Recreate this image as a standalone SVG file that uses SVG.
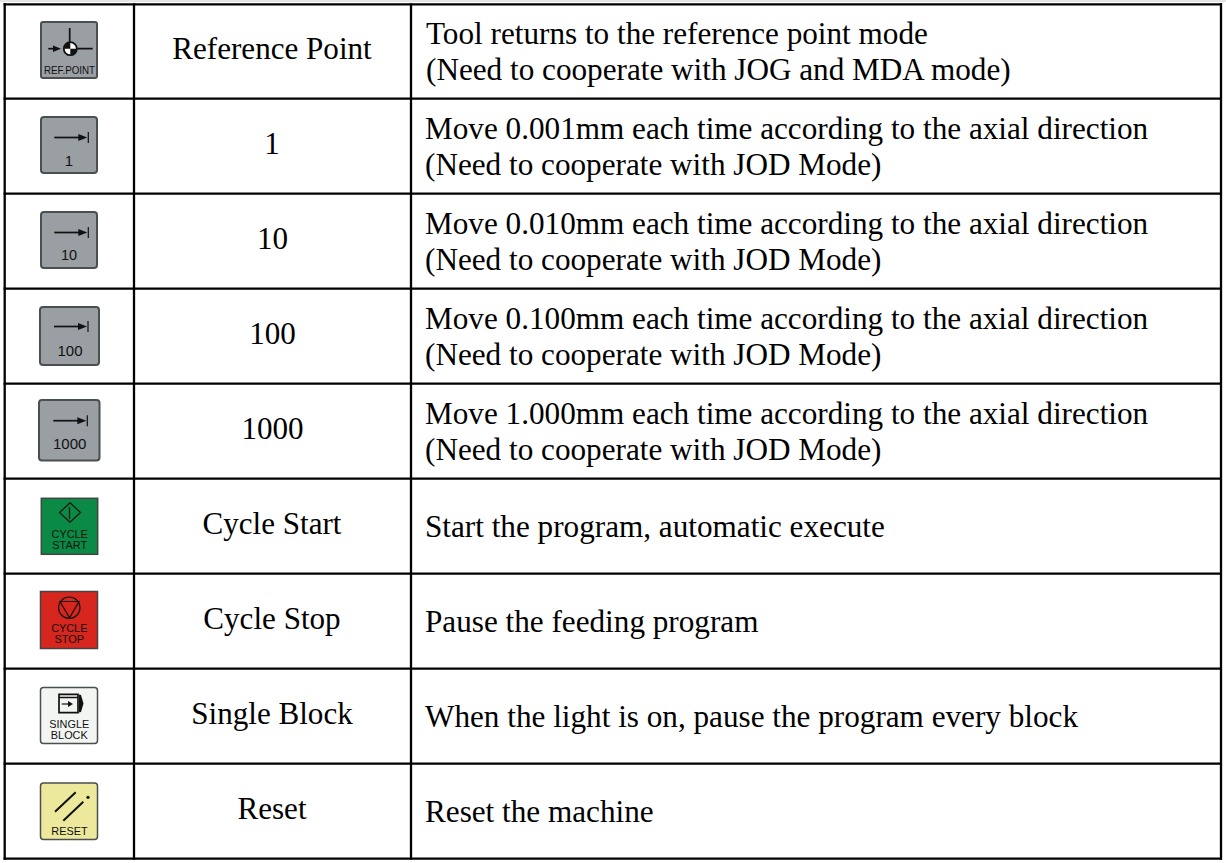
<svg xmlns="http://www.w3.org/2000/svg" width="1226" height="863" viewBox="0 0 1226 863">
<style>
text{font-family:"Liberation Serif","Times New Roman",serif;fill:#000}
.l{font-size:31.1px;text-anchor:middle}
.d{font-size:31.2px}
.g{stroke:#000;stroke-width:2.3;fill:none}
.k{fill:#9a9fa3;stroke:#4a4f50;stroke-width:2}
.c{font-family:"Liberation Sans",Arial,sans-serif;font-size:10.9px;text-anchor:middle;fill:#111}
.n{font-size:15px}
.s{stroke:#111;stroke-width:1.7;fill:none}
.t{stroke:#111;stroke-width:1.2;fill:none}
.f{fill:#111}
</style>
<defs>
<g id="arrow"><path class="s" d="M0 0H26"/><path class="f" d="M24 -3.500L33 0L24 3.500Z"/><path class="t" d="M34 -5.500V5.500"/></g>
</defs>
<rect width="1226" height="863" fill="#fff"/>
<rect width="1226" height="2" fill="#e4e4e4"/>
<g id="connectors" class="g">
<path d="M3.600 4.300H1222M3.600 98.700H1222M3.600 193.700H1222M3.600 288.700H1222M3.600 383.700H1222M3.600 478.700H1222M3.600 573.700H1222M3.600 668.700H1222M3.600 763.700H1222M3.600 858.700H1222"/>
<path d="M4.700 3.200V859.800M134 3.200V859.800M411 3.200V859.800M1221 3.200V859.800"/>
</g>
<g id="row-ref">
<rect class="k" x="41" y="22" width="56" height="56" rx="2"/>
<path class="s" d="M69.700 28V48.700M70 48.700H92.700"/>
<path class="s" d="M48.300 48.700H56"/><path class="f" d="M53 45.500L61 48.700L53 51.900Z"/>
<circle cx="70.300" cy="48.700" r="6.500" fill="#fff" stroke="#111" stroke-width="1.800"/>
<path class="f" d="M70.300 42.200V48.700H63.800A6.500 6.500 0 0 1 70.300 42.200ZM70.300 48.700H76.800A6.500 6.500 0 0 1 70.300 55.200Z"/>
<text class="c" x="69.500" y="74" textLength="51" lengthAdjust="spacingAndGlyphs" style="font-size:11.500px">REF.POINT</text>
<text class="l" x="272" y="59.300">Reference Point</text>
<text class="d" x="426" y="44.300">Tool returns to the reference point mode</text>
<text class="d" x="426" y="80.300">(Need to cooperate with JOG and MDA mode)</text>
</g>
<g id="row-1">
<rect class="k" x="41" y="117" width="56" height="56" rx="3"/>
<use href="#arrow" x="54.300" y="137.500"/>
<text class="c" x="69" y="165.600" style="font-size:15px">1</text>
<text class="l" x="272" y="154.300">1</text>
<text class="d" x="425" y="139.300">Move 0.001mm each time according to the axial direction</text>
<text class="d" x="425" y="175.300">(Need to cooperate with JOD Mode)</text>
</g>
<g id="row-10">
<rect class="k" x="41" y="212" width="56" height="56" rx="3"/>
<use href="#arrow" x="54.300" y="232.500"/>
<text class="c" x="69" y="260" style="font-size:14.500px">10</text>
<text class="l" x="272.500" y="249.300">10</text>
<text class="d" x="425" y="234.300">Move 0.010mm each time according to the axial direction</text>
<text class="d" x="425" y="270.300">(Need to cooperate with JOD Mode)</text>
</g>
<g id="row-100">
<rect class="k" x="40" y="307" width="59" height="58" rx="3"/>
<use href="#arrow" x="54" y="326.500"/>
<text class="c" x="70" y="355.500" style="font-size:15px">100</text>
<text class="l" x="272.500" y="344.300">100</text>
<text class="d" x="425" y="329.300">Move 0.100mm each time according to the axial direction</text>
<text class="d" x="425" y="365.300">(Need to cooperate with JOD Mode)</text>
</g>
<g id="row-1000">
<rect class="k" x="39" y="400" width="60.500" height="60.500" rx="3"/>
<use href="#arrow" x="53.300" y="420.700"/>
<text class="c" x="69.700" y="449.300" style="font-size:15px">1000</text>
<text class="l" x="272.500" y="439.300">1000</text>
<text class="d" x="425" y="424.300">Move 1.000mm each time according to the axial direction</text>
<text class="d" x="425" y="460.300">(Need to cooperate with JOD Mode)</text>
</g>
<g id="row-start">
<rect x="41.300" y="498.300" width="56.400" height="56" fill="#0a8a45" stroke="#444" stroke-width="1.500"/>
<path class="t" d="M70 502.700L80.500 512.500L70 522.300L59.500 512.500ZM69.500 507V519"/>
<text class="c" x="69.700" y="537.700">CYCLE</text>
<text class="c" x="69.700" y="549">START</text>
<text class="l" x="272" y="534.300">Cycle Start</text>
<text class="d" x="425" y="537.300">Start the program, automatic execute</text>
</g>
<g id="row-stop">
<rect x="40.500" y="591.500" width="57" height="57" fill="#d6261d" stroke="#444" stroke-width="1.500"/>
<circle cx="69.300" cy="607.700" r="10.700" class="t"/>
<path class="t" d="M60 601.500H79L69.500 617.700Z"/>
<text class="c" x="69.300" y="631.700">CYCLE</text>
<text class="c" x="69.300" y="643.200">STOP</text>
<text class="l" x="272" y="629.300">Cycle Stop</text>
<text class="d" x="425" y="632.300">Pause the feeding program</text>
</g>
<g id="row-single">
<rect x="40.500" y="687.500" width="57" height="56" rx="3" fill="#f3f5f3" stroke="#4a4f50" stroke-width="1.500"/>
<path class="s" d="M59 694.300H78V712.700H59ZM59 697.500H78"/>
<path class="t" d="M61.700 704H69"/>
<path class="f" d="M68 701L73 704L68 707ZM79 694.500L81 695L83.500 703.500L81 712L79 712.500Z"/>
<text class="c" x="69.300" y="727.700">SINGLE</text>
<text class="c" x="69.300" y="739">BLOCK</text>
<text class="l" x="272" y="724.300">Single Block</text>
<text class="d" x="425" y="727.300">When the light is on, pause the program every block</text>
</g>
<g id="row-reset">
<rect x="40.500" y="783" width="57" height="56.500" rx="3" fill="#ece89c" stroke="#4a4f50" stroke-width="1.500"/>
<path d="M55 811.700L75.700 792.300M63.300 820.700L83.300 801.700" stroke="#111" stroke-width="2" fill="none"/>
<circle cx="88" cy="797.300" r="1.600" fill="#111"/>
<text class="c" x="69.500" y="835">RESET</text>
<text class="l" x="272" y="819.300">Reset</text>
<text class="d" x="425" y="822.300">Reset the machine</text>
</g>
</svg>
